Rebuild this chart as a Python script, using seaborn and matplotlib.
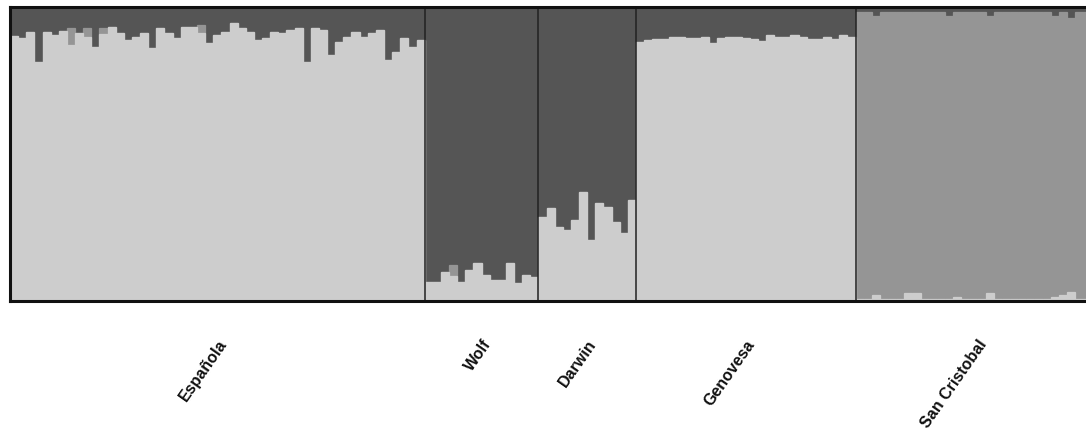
import numpy as np
import pandas as pd
import matplotlib
matplotlib.use("Agg")
import matplotlib.pyplot as plt
import seaborn as sns

sns.set_style("white")
plt.rcParams['font.family'] = ['Liberation Sans', 'DejaVu Sans']

populations = ["Española", "Wolf", "Darwin", "Genovesa", "San Cristobal"]

# membership fractions per individual (cluster 1 = light, 2 = medium, 3 = dark)
espanola_dark = [0.099, 0.105, 0.085, 0.187, 0.085, 0.095, 0.082, 0.071, 0.088, 0.071,
                 0.136, 0.071, 0.068, 0.088, 0.112, 0.102, 0.088, 0.139, 0.071, 0.088,
                 0.105, 0.068, 0.068, 0.060, 0.122, 0.095, 0.085, 0.054, 0.071, 0.085,
                 0.112, 0.105, 0.085, 0.088, 0.078, 0.071, 0.187, 0.071, 0.078, 0.163,
                 0.119, 0.102, 0.085, 0.102, 0.088, 0.078, 0.180, 0.153, 0.105, 0.136,
                 0.112]
espanola_medium = [0, 0, 0, 0, 0, 0, 0, 0.058, 0, 0.030,
                   0, 0.020, 0, 0, 0, 0, 0, 0, 0, 0,
                   0, 0, 0, 0.027, 0, 0, 0, 0, 0, 0,
                   0, 0, 0, 0, 0, 0, 0, 0, 0, 0,
                   0, 0, 0, 0, 0, 0, 0, 0, 0, 0,
                   0]

wolf_light = [0.065, 0.065, 0.099, 0.085, 0.065, 0.105, 0.129, 0.088, 0.071, 0.071,
              0.129, 0.061, 0.088, 0.082]
wolf_medium = [0, 0, 0, 0.037, 0, 0, 0, 0, 0, 0, 0, 0, 0, 0]

darwin_light = [0.286, 0.316, 0.252, 0.241, 0.276, 0.371, 0.207, 0.333, 0.320, 0.269,
                0.231, 0.344]

genovesa_dark = [0.118, 0.112, 0.109, 0.110, 0.101, 0.103, 0.106, 0.104, 0.101, 0.121,
                 0.106, 0.103, 0.101, 0.106, 0.110, 0.115, 0.095, 0.101, 0.103, 0.095,
                 0.101, 0.110, 0.110, 0.101, 0.110, 0.095, 0.102]

sancristobal_dark = [0.017, 0.017, 0.032, 0.017, 0.017, 0.017, 0.017, 0.017, 0.017, 0.017,
                     0.017, 0.030, 0.017, 0.017, 0.017, 0.017, 0.030, 0.017, 0.017, 0.017,
                     0.017, 0.017, 0.017, 0.017, 0.030, 0.017, 0.037, 0.017, 0.017, 0.017]
sancristobal_light = [0.006, 0.006, 0.020, 0.006, 0.006, 0.006, 0.027, 0.027, 0.006, 0.006,
                      0.006, 0.006, 0.012, 0.006, 0.006, 0.006, 0.027, 0.006, 0.006, 0.006,
                      0.006, 0.006, 0.006, 0.006, 0.012, 0.020, 0.030, 0.006, 0.006, 0.006]

# assemble table: light (bottom), medium, dark (top)
rows = []
def add(pop, light, medium):
    for l, m in zip(light, medium):
        rows.append((pop, l, m, 1 - l - m))

add("Española", [1 - d - m for d, m in zip(espanola_dark, espanola_medium)], espanola_medium)
add("Wolf", wolf_light, wolf_medium)
add("Darwin", darwin_light, [0] * len(darwin_light))
add("Genovesa", [1 - d for d in genovesa_dark], [0] * len(genovesa_dark))
add("San Cristobal", sancristobal_light,
    [1 - l - d for l, d in zip(sancristobal_light, sancristobal_dark)])

df = pd.DataFrame(rows, columns=["pop", "light", "medium", "dark"])
df["ind"] = np.arange(len(df))
df["c1"] = df["light"]
df["c2"] = df["light"] + df["medium"]
df["c3"] = df["light"] + df["medium"] + df["dark"]

n = len(df)
W, H = 1086, 446
fig = plt.figure(figsize=(W / 100, H / 100), dpi=100)
bar_px = 8.13
left, top, bottom = 10, 7, 301
ax = fig.add_axes([left / W, (H - bottom) / H, n * bar_px / W, (bottom - top) / H])

c_light, c_med, c_dark = "#cdcdcd", "#959595", "#555555"
order = list(df["ind"])
for col, color in [("c3", c_dark), ("c2", c_med), ("c1", c_light)]:
    sns.barplot(data=df, x="ind", y=col, order=order, width=1.0, color=color,
                saturation=1, edgecolor=color, linewidth=0.9, ax=ax, errorbar=None)

ax.set_xlim(-0.5, n - 0.5)
ax.set_ylim(0, 1)
ax.set_yticks([])
ax.set_xlabel("")
ax.set_ylabel("")

# population separators and labels
sizes = df.groupby("pop", sort=False).size().tolist()
edges = np.cumsum([0] + sizes)
for e in edges[1:-1]:
    ax.axvline(e - 0.5, color="#222222", lw=1.1)
centers = [(edges[i] + edges[i + 1]) / 2 - 0.5 for i in range(len(sizes))]
ax.set_xticks(centers)
ax.set_xticklabels(populations, rotation=55, ha="right", rotation_mode="anchor",
                   fontsize=11.5, fontweight="bold", color="#111111")
ax.tick_params(axis="x", length=0, pad=26)

for s in ["left", "top", "bottom"]:
    ax.spines[s].set_visible(True)
    ax.spines[s].set_linewidth(2.2)
    ax.spines[s].set_color("#111111")
ax.spines["right"].set_visible(False)

fig.savefig("out.png", dpi=100)
